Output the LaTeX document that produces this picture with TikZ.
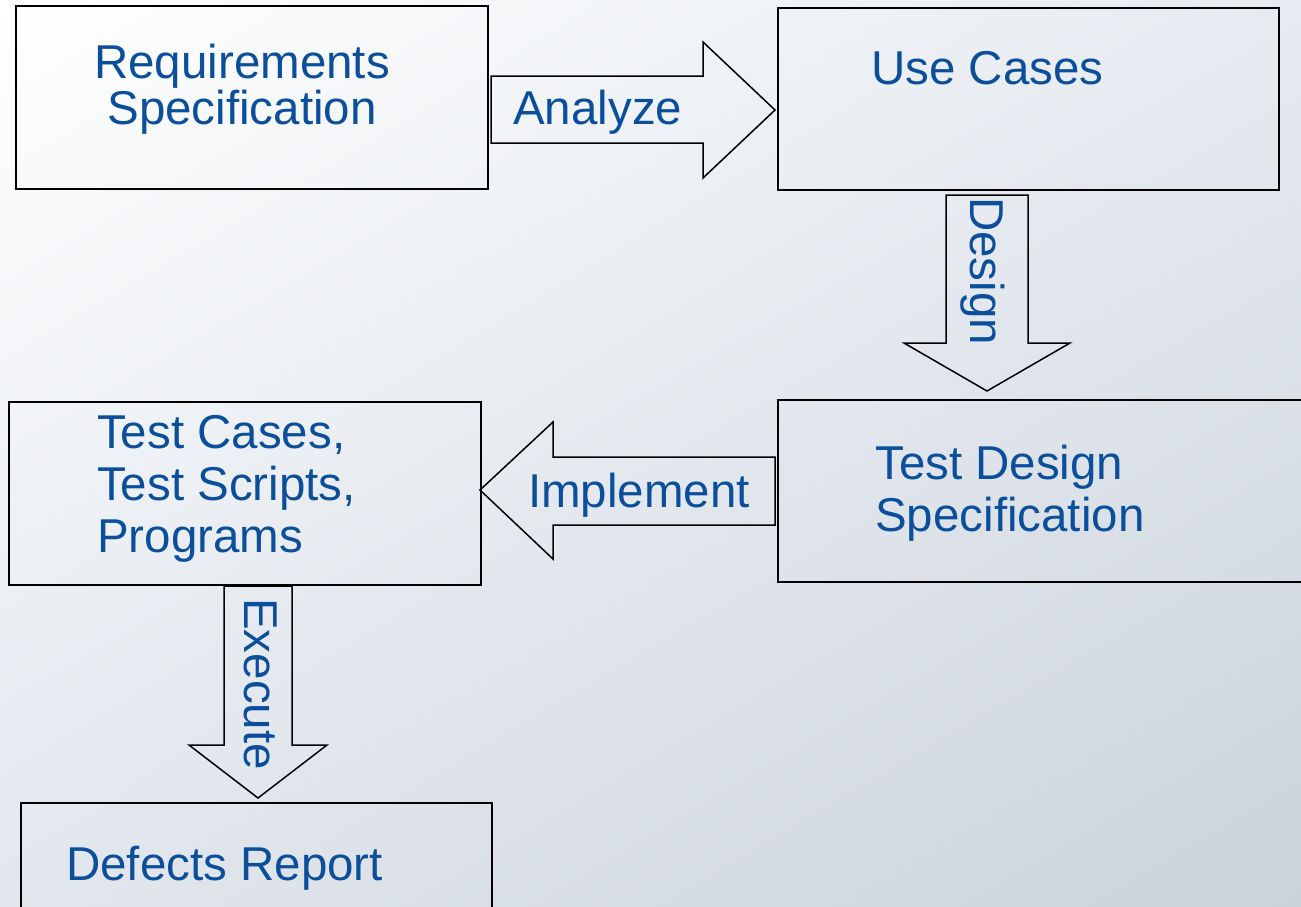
\documentclass[tikz,border=0pt]{standalone}
\usepackage{fontspec}
\setmainfont{Liberation Sans}
\usetikzlibrary{positioning}
\usetikzlibrary{shadings}
\definecolor{BLUE_T}{HTML}{0B4F9C}
\definecolor{BG_UR}{HTML}{E6EBF1}
\definecolor{BG_LL}{HTML}{E2E7EE}
\definecolor{BG_LR}{HTML}{CBD2DB}
\tikzset{
	every node/.style = {font=\fontsize{47.5}{52}\selectfont},
	flowbox/.style = {draw, line width=1.9pt, anchor=north west, inner sep=0pt,
		minimum width=472pt, minimum height=183pt},
	flowarrow/.style = {draw, line width=1.5pt, line join=miter},
	flowtext/.style = {text=BLUE_T, inner sep=0pt, anchor=base west, align=left}
}

\begin{document}
\begin{tikzpicture}[x=1pt, y=-1pt]
		% background
		\shade[upper left=white, upper right=BG_UR, lower left=BG_LL, lower right=BG_LR]
		      (0,0) rectangle (1301,906);
		\useasboundingbox (0,0) rectangle (1301,906);
		% boxes
		\node[flowbox] (req) at (15,5) {};
		\node[flowbox, minimum width=501pt, minimum height=182pt] (uc) at (777,7) {};
		\node[flowbox, minimum width=540pt, minimum height=182pt] (tds) at (777,399) {};
		\node[flowbox] (tc) at (8,401) {};
		\node[flowbox, minimum width=471pt, minimum height=140pt] (dr) at (20,802) {};
		% block arrows
		\draw[flowarrow] (491,76) -- (703,76) -- (703,42) -- (775,110)
		      -- (703,178) -- (703,143) -- (491,143) -- cycle;
		\draw[flowarrow] (946,195) -- (1028,195) -- (1028,343) -- (1070,343)
		      -- (987,391) -- (904,343) -- (946,343) -- cycle;
		\draw[flowarrow] (775,457) -- (553,457) -- (553,422) -- (480,490)
		      -- (553,559) -- (553,525) -- (775,525) -- cycle;
		\draw[flowarrow] (224,586) -- (292,586) -- (292,745) -- (327,745)
		      -- (258,798) -- (189,745) -- (224,745) -- cycle;
		% texts
		\node[flowtext, anchor=base, align=center, font=\fontsize{47.5}{44}\selectfont]
		      (reqtext) at (242,124) {Requirements\\Specification};
		\node[flowtext] (uctext) at (871,84) {Use Cases};
		\node[flowtext] (tdstext) at (875,531) {Test Design\\Specification};
		\node[flowtext] (tctext) at (97,552) {Test Cases,\\Test Scripts,\\Programs};
		\node[flowtext] (drtext) at (66,880) {Defects Report};
		\node[flowtext] (analyzetext) at (513,124) {Analyze};
		\node[flowtext] (implementtext) at (528,507) {Implement};
		\node[flowtext, rotate=-90] (designtext) at (970,197) {Design};
		\node[flowtext, rotate=-90] (executetext) at (244,598) {Execute};
	\end{tikzpicture}
\end{document}
